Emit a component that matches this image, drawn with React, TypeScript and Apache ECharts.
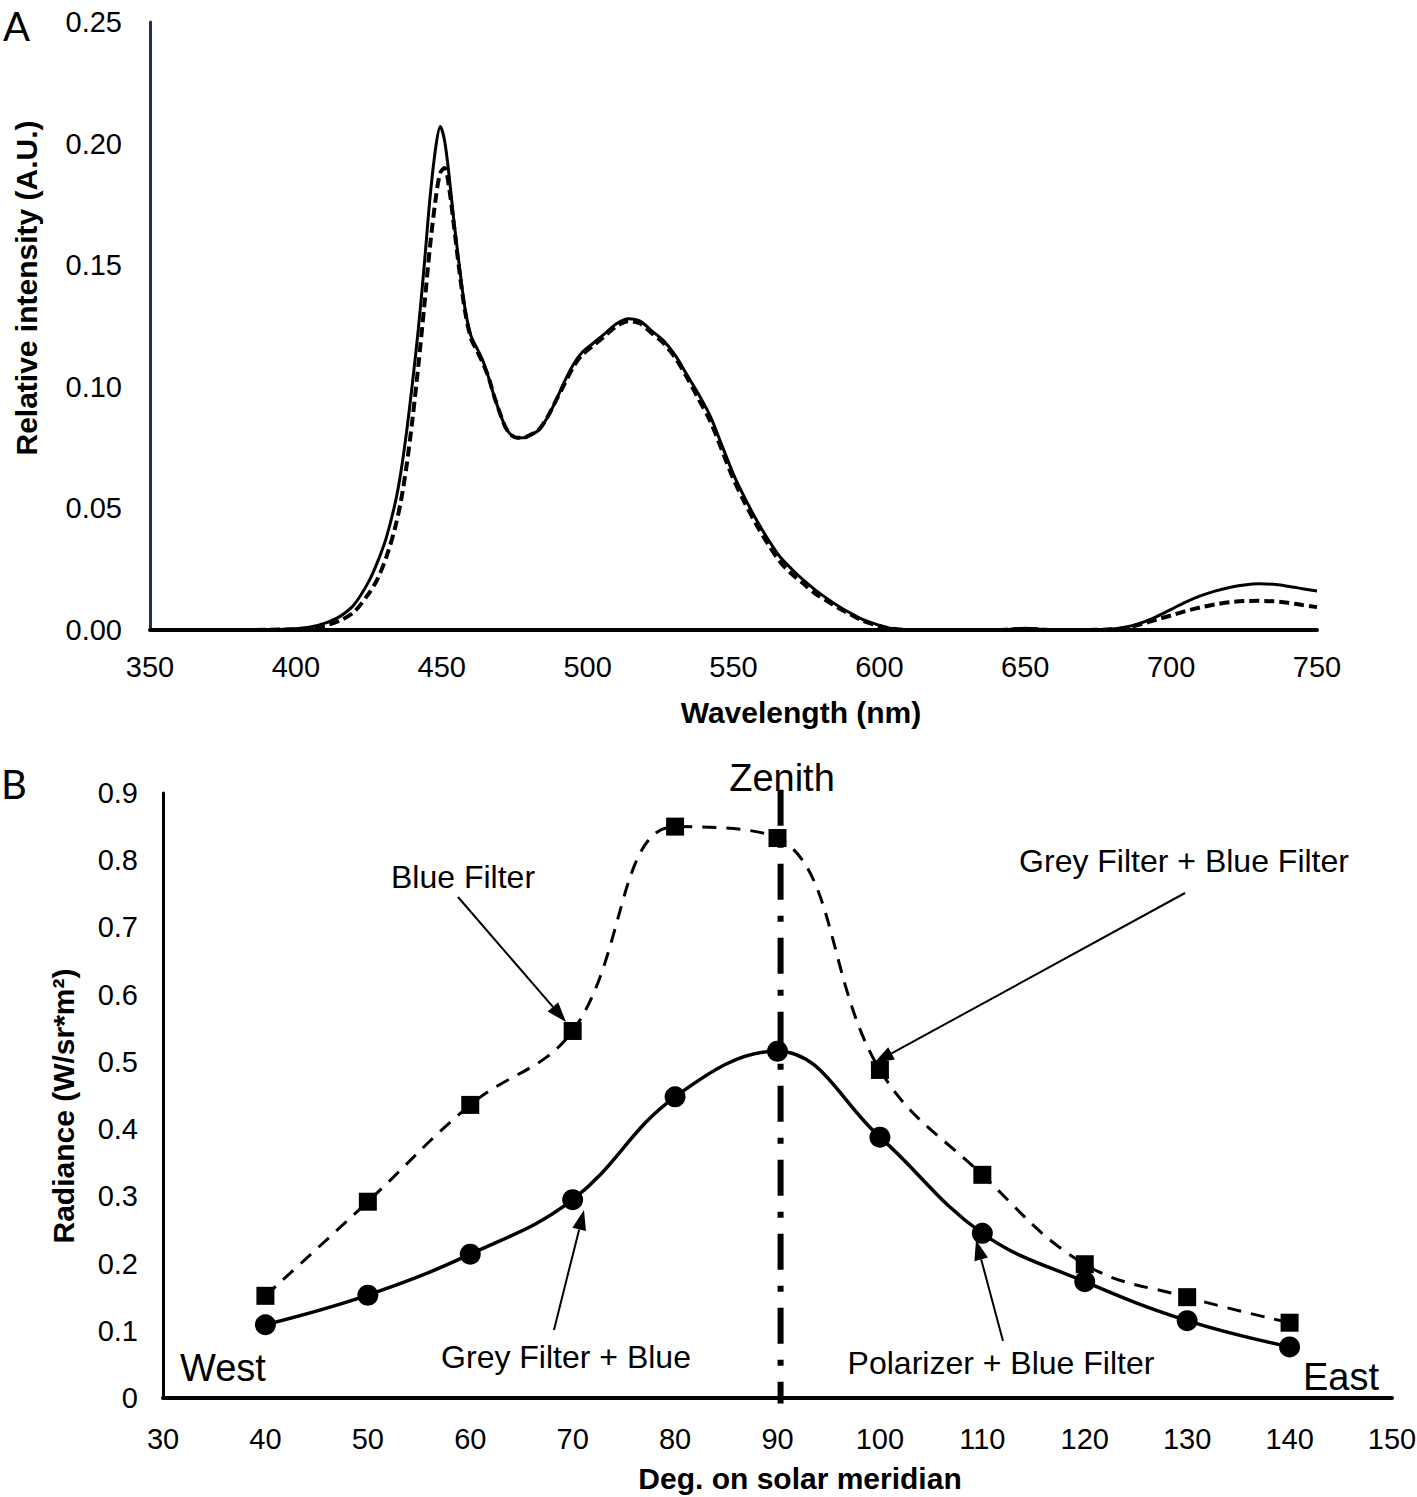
import React, { useEffect, useRef } from "react";
import * as echarts from "echarts";

// ---------- Panel A data (spectrum) ----------
const wavelengths = [
  350, 360, 370, 380, 390, 400, 405, 410, 415, 420, 425, 428, 431, 434, 436, 438, 440, 442, 444, 446, 448, 449.5,
  451, 452.5, 454, 456, 458, 460, 462, 464, 466, 468, 470, 472, 474, 476, 478, 480, 483, 486, 489, 492, 495, 498,
  502, 506, 510, 514, 518, 522, 526, 530, 534, 538, 542, 546, 550, 554, 558, 562, 566, 570, 574, 578, 582, 586,
  590, 594, 598, 602, 606, 610, 620, 630, 640, 645, 650, 655, 660, 670, 680, 685, 690, 695, 700, 705, 710, 715,
  720, 725, 730, 735, 740, 745, 750,
];
const intensitySolid = [
  0, 0, 0, 0, 0.0001, 0.0005, 0.0012, 0.0028, 0.0055, 0.0105, 0.02, 0.028, 0.038, 0.052, 0.065, 0.082, 0.102, 0.124,
  0.15, 0.178, 0.199, 0.207, 0.201, 0.187, 0.17, 0.15, 0.132, 0.121, 0.116, 0.111, 0.104, 0.096, 0.089, 0.083, 0.08,
  0.079, 0.079, 0.08, 0.082, 0.087, 0.094, 0.102, 0.109, 0.114, 0.118, 0.122, 0.126, 0.128, 0.127, 0.123, 0.119,
  0.113, 0.105, 0.097, 0.088, 0.076, 0.064, 0.054, 0.045, 0.037, 0.03, 0.025, 0.0205, 0.0165, 0.013, 0.0098, 0.007,
  0.0045, 0.0027, 0.0012, 0.0003, 0, 0, 0, 0, 0.0003, 0.0007, 0.0003, 0, 0, 0.0004, 0.0013, 0.003, 0.0055, 0.0085,
  0.0115, 0.014, 0.016, 0.0175, 0.0185, 0.019, 0.0188, 0.018, 0.017, 0.016,
];
const intensityDashed = [
  0, 0, 0, 0, 0.0001, 0.0003, 0.0008, 0.0018, 0.0038, 0.0075, 0.015, 0.021, 0.03, 0.042, 0.053, 0.068, 0.087, 0.109,
  0.133, 0.158, 0.178, 0.188, 0.19, 0.182, 0.168, 0.148, 0.131, 0.12, 0.115, 0.11, 0.104, 0.096, 0.089, 0.083, 0.08,
  0.079, 0.079, 0.08, 0.082, 0.087, 0.094, 0.101, 0.108, 0.113, 0.117, 0.121, 0.125, 0.127, 0.126, 0.122, 0.118,
  0.112, 0.104, 0.095, 0.086, 0.074, 0.062, 0.052, 0.043, 0.035, 0.028, 0.023, 0.019, 0.015, 0.012, 0.009, 0.0065,
  0.004, 0.0023, 0.001, 0.0003, 0, 0, 0, 0, 0.0002, 0.0004, 0.0002, 0, 0, 0.0003, 0.001, 0.0025, 0.0043, 0.006,
  0.0078, 0.0093, 0.0105, 0.0114, 0.0119, 0.012, 0.0118, 0.0112, 0.0103, 0.0094,
];

// ---------- Panel B data (radiance) ----------
const degrees = [40, 50, 60, 70, 80, 90, 100, 110, 120, 130, 140];
const blueFilter = [0.152, 0.292, 0.436, 0.546, 0.85, 0.833, 0.488, 0.332, 0.199, 0.15, 0.112];
const polarizerBlue = [0.109, 0.153, 0.214, 0.295, 0.448, 0.516, 0.388, 0.245, 0.173, 0.115, 0.076];
const zenithDeg = 90.3;
const zenithSpan = [0.905, -0.008];

const FONT = '"Liberation Sans", Arial, sans-serif';

function arrow(x1: number, y1: number, x2: number, y2: number) {
  const a = Math.atan2(y2 - y1, x2 - x1);
  const c = Math.cos(a);
  const s = Math.sin(a);
  const len = 20;
  const w = 7;
  const bx = x2 - len * c;
  const by = y2 - len * s;
  return [
    { type: "line", silent: true, shape: { x1, y1, x2: bx, y2: by }, style: { stroke: "#000", lineWidth: 2 } },
    {
      type: "polygon",
      silent: true,
      shape: { points: [[x2, y2], [bx - s * w, by + c * w], [bx + s * w, by - c * w]] },
      style: { fill: "#000" },
    },
  ];
}

function txt(text: string, x: number, y: number, size: number, opts: any = {}) {
  return {
    type: "text",
    silent: true,
    x,
    y,
    rotation: opts.rotation || 0,
    style: {
      text,
      fill: "#000",
      fontSize: size,
      fontFamily: opts.family || FONT,
      fontWeight: opts.bold ? "bold" : "normal",
      align: opts.align || "center",
      verticalAlign: "middle",
    },
  };
}

export default function App() {
  const ref = useRef<HTMLDivElement>(null);
  useEffect(() => {
    document.body.style.margin = "0";
    document.body.style.overflow = "hidden";
    const chart = echarts.init(ref.current!, null, { renderer: "svg" });
    const labelStyle = { fontSize: 29, color: "#000", fontFamily: FONT };
    const option: any = {
      animation: false,
      backgroundColor: "#fff",
      grid: [
        { left: 150, top: 22, right: 100, bottom: 867, outerBoundsMode: "none" },
        { left: 163, top: 793, right: 25, bottom: 99, outerBoundsMode: "none" },
      ],
      xAxis: [
        {
          gridIndex: 0,
          type: "value",
          min: 350,
          max: 750,
          interval: 50,
          axisLine: { show: true, onZero: false, lineStyle: { color: "#000", width: 4 } },
          axisTick: { show: false },
          splitLine: { show: false },
          axisLabel: { ...labelStyle, margin: 22 },
        },
        {
          gridIndex: 1,
          type: "value",
          min: 30,
          max: 150,
          interval: 10,
          axisLine: { show: true, onZero: false, lineStyle: { color: "#000", width: 4 } },
          axisTick: { show: false },
          splitLine: { show: false },
          axisLabel: { ...labelStyle, margin: 26 },
        },
      ],
      yAxis: [
        {
          gridIndex: 0,
          type: "value",
          min: 0,
          max: 0.25,
          interval: 0.05,
          axisLine: { show: true, lineStyle: { color: "#1c2f5e", width: 3 } },
          axisTick: { show: false },
          splitLine: { show: false },
          axisLabel: { ...labelStyle, margin: 28, formatter: (v: number) => v.toFixed(2) },
        },
        {
          gridIndex: 1,
          type: "value",
          min: 0,
          max: 0.9,
          interval: 0.1,
          axisLine: { show: true, lineStyle: { color: "#000", width: 3 } },
          axisTick: { show: false },
          splitLine: { show: false },
          axisLabel: { ...labelStyle, margin: 25 },
        },
      ],
      series: [
        {
          type: "line",
          xAxisIndex: 0,
          yAxisIndex: 0,
          data: wavelengths.map((w, i) => [w, intensityDashed[i]]),
          showSymbol: false,
          smooth: 0.3,
          silent: true,
          lineStyle: { color: "#000", width: 4, type: [10, 5] },
        },
        {
          type: "line",
          xAxisIndex: 0,
          yAxisIndex: 0,
          data: wavelengths.map((w, i) => [w, intensitySolid[i]]),
          showSymbol: false,
          smooth: 0.3,
          silent: true,
          lineStyle: { color: "#000", width: 3 },
        },
        {
          type: "line",
          xAxisIndex: 1,
          yAxisIndex: 1,
          data: zenithSpan.map((v) => [zenithDeg, v]),
          showSymbol: false,
          clip: false,
          silent: true,
          z: 1,
          lineStyle: { color: "#000", width: 6, type: [36, 16, 6, 16], cap: "butt" },
        },
        {
          type: "line",
          xAxisIndex: 1,
          yAxisIndex: 1,
          data: degrees.map((d, i) => [d, blueFilter[i]]),
          symbol: "rect",
          symbolSize: 18,
          smooth: 0.4,
          silent: true,
          itemStyle: { color: "#000" },
          lineStyle: { color: "#000", width: 3, type: [14, 10] },
        },
        {
          type: "line",
          xAxisIndex: 1,
          yAxisIndex: 1,
          data: degrees.map((d, i) => [d, polarizerBlue[i]]),
          symbol: "circle",
          symbolSize: 21,
          smooth: 0.4,
          silent: true,
          itemStyle: { color: "#000" },
          lineStyle: { color: "#000", width: 3.5 },
        },
      ],
      graphic: [
        txt("A", 3, 26, 40, { align: "left", family: "Lato, sans-serif" }),
        txt("B", 1, 784, 40, { align: "left", family: "Lato, sans-serif" }),
        txt("Relative intensity (A.U.)", 26, 288, 30, { bold: true, rotation: Math.PI / 2 }),
        txt("Wavelength (nm)", 801, 712, 30, { bold: true }),
        txt("Radiance (W/sr*m\u00b2)", 63, 1106, 30, { bold: true, rotation: Math.PI / 2 }),
        txt("Deg. on solar meridian", 800, 1478, 30, { bold: true }),
        txt("Zenith", 782, 778, 38),
        txt("Blue Filter", 463, 877, 32),
        txt("Grey Filter + Blue Filter", 1184, 861, 32),
        txt("Grey Filter + Blue", 566, 1357, 32),
        txt("Polarizer + Blue Filter", 1001, 1363, 32),
        txt("West", 180, 1368, 38, { align: "left" }),
        txt("East", 1303, 1377, 38, { align: "left" }),
        ...arrow(458, 897, 566, 1022),
        ...arrow(554, 1330, 584, 1210),
        ...arrow(1185, 893, 874, 1063),
        ...arrow(1003, 1341, 976, 1240),
      ],
    };
    chart.setOption(option);
    return () => chart.dispose();
  }, []);
  return <div ref={ref} style={{ width: 1417, height: 1497 }} />;
}
